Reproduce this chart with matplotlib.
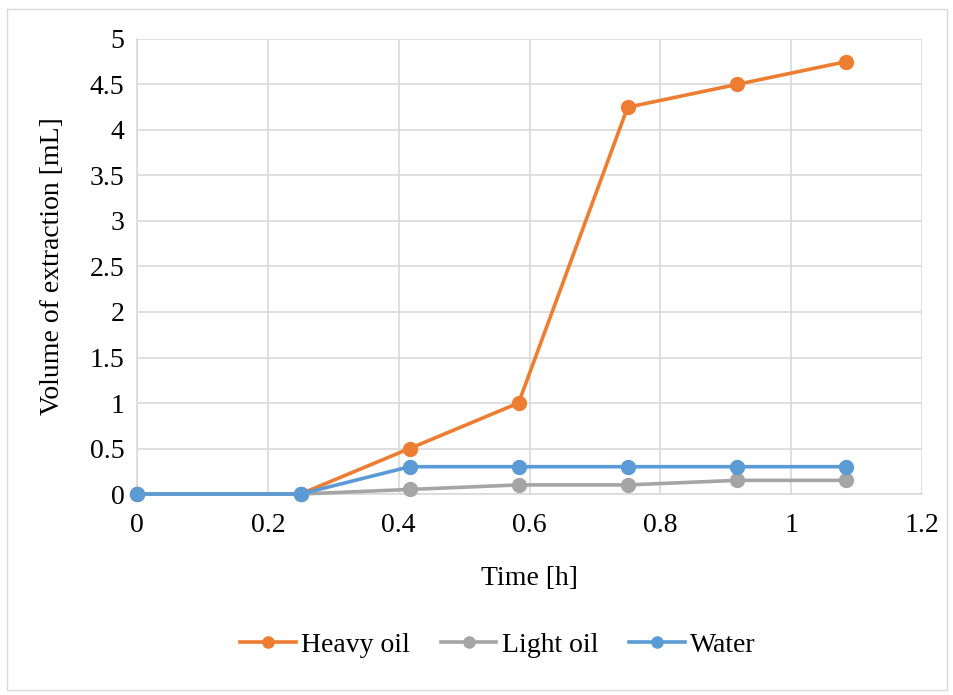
import matplotlib.pyplot as plt
from matplotlib.patches import Rectangle

plt.rcParams["font.family"] = ["Liberation Serif", "DejaVu Serif"]

time_h = [0, 0.25, 0.4167, 0.5833, 0.75, 0.9167, 1.0833]
heavy_oil = [0, 0, 0.5, 1.0, 4.25, 4.5, 4.75]
light_oil = [0, 0, 0.05, 0.1, 0.1, 0.15, 0.15]
water = [0, 0, 0.3, 0.3, 0.3, 0.3, 0.3]

series = [
    ("Heavy oil", heavy_oil, "#ED7D31"),
    ("Light oil", light_oil, "#A5A5A5"),
    ("Water", water, "#5B9BD5"),
]

fig = plt.figure(figsize=(9.54, 6.95), dpi=100)
fig.patches.append(Rectangle((7 / 954, 1 - 690 / 695), 940 / 954, 681 / 695,
                             transform=fig.transFigure, fill=False,
                             edgecolor="#D9D9D9", linewidth=1))
ax = fig.add_axes([0.1436, 0.2892, 0.8229, 0.6547])

for name, vals, color in series:
    ax.plot(time_h, vals, color=color, linewidth=2.6, marker="o",
            markersize=10, label=name, clip_on=False, zorder=3)

ax.set_xlim(0, 1.2)
ax.set_ylim(0, 5)
ax.set_xticks([0, 0.2, 0.4, 0.6, 0.8, 1.0, 1.2])
ax.set_xticklabels(["0", "0.2", "0.4", "0.6", "0.8", "1", "1.2"])
ax.set_yticks([0, 0.5, 1, 1.5, 2, 2.5, 3, 3.5, 4, 4.5, 5])
ax.set_yticklabels(["0", "0.5", "1", "1.5", "2", "2.5", "3", "3.5", "4", "4.5", "5"])
ax.tick_params(length=0, labelsize=20, pad=9)
ax.tick_params(axis="x", pad=14)
ax.grid(color="#D9D9D9", linewidth=1.2)
for side in ["top", "right"]:
    ax.spines[side].set_visible(False)
for side in ["left", "bottom"]:
    ax.spines[side].set_color("#D9D9D9")
    ax.spines[side].set_linewidth(1.2)

ax.set_xlabel("Time [h]", fontsize=20, labelpad=20)
ax.set_ylabel("Volume of extraction [mL]", fontsize=20, labelpad=18)

fig.legend(loc="center", bbox_to_anchor=(0.522, 1 - 645 / 695), ncol=3,
           frameon=False, fontsize=20, handlelength=2.0, handletextpad=0.2,
           columnspacing=1.1, markerscale=0.8)

fig.savefig("out.png", dpi=100)
